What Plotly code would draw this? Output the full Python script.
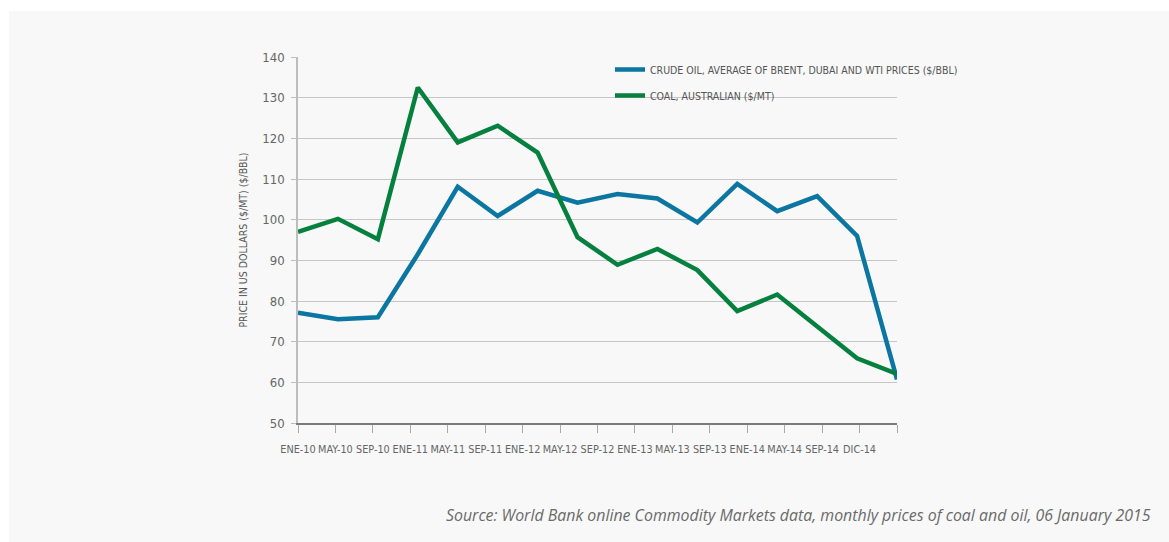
import plotly.graph_objects as go

# ---- data ----
periods = ["ENE-10", "MAY-10", "SEP-10", "ENE-11", "MAY-11", "SEP-11", "ENE-12", "MAY-12",
           "SEP-12", "ENE-13", "MAY-13", "SEP-13", "ENE-14", "MAY-14", "SEP-14", "DIC-14"]
oil = [77.1, 75.5, 76.0, 91.5, 108.1, 100.9, 107.1, 104.2,
       106.3, 105.2, 99.3, 108.8, 102.1, 105.8, 96.0, 60.7]
coal = [97.0, 100.2, 95.2, 132.5, 119.0, 123.1, 116.5, 95.7,
        88.9, 92.8, 87.6, 77.5, 81.6, 73.8, 65.9, 62.1]
tick_labels = periods + [""]
y_ticks = [50, 60, 70, 80, 90, 100, 110, 120, 130, 140]

oil_name = "CRUDE OIL, AVERAGE OF BRENT, DUBAI AND WTI PRICES ($/BBL)"
coal_name = "COAL, AUSTRALIAN ($/MT)"
source = "Source: World Bank online Commodity Markets data, monthly prices of coal and oil, 06 January 2015"

BLUE = "#0a76a1"
GREEN = "#06803f"
PANEL = "#f7f8f7"
NARROW = "Liberation Sans Narrow, DejaVu Sans Condensed, Arial Narrow, sans-serif"

fig = go.Figure()
# empty trace so that the labelled tick axis (x) is drawn
fig.add_trace(go.Scatter(x=[], y=[], xaxis="x", yaxis="y", showlegend=False, hoverinfo="skip"))
fig.add_trace(go.Scatter(x=periods, y=oil, mode="lines", name=oil_name, xaxis="x2",
                         line=dict(color=BLUE, width=4.5), legendgroup="a"))
fig.add_trace(go.Scatter(x=periods, y=coal, mode="lines", name=coal_name, xaxis="x2",
                         line=dict(color=GREEN, width=4.5), legendgroup="b"))

W, H = 1169, 542
L, R, T, B = 298, 272, 57, 119
pw, ph = W - L - R, H - T - B

def px(x):
    return (x - L) / pw

def py(y):
    return (H - B - y) / ph

fig.update_layout(
    width=W, height=H,
    margin=dict(l=L, r=R, t=T, b=B),
    paper_bgcolor="white",
    plot_bgcolor=PANEL,
    showlegend=True,
    legend=dict(x=px(610), y=py(55), xanchor="left", yanchor="top",
                bgcolor="rgba(0,0,0,0)", font=dict(family=NARROW, size=10.5, color="#555"),
                tracegroupgap=7, traceorder="grouped"),
    xaxis=dict(range=[0, 16], tickmode="array", tickvals=list(range(17)), ticktext=tick_labels,
               showgrid=False, zeroline=False, showline=True, linecolor="#7a7a7a", linewidth=1.5,
               ticks="outside", ticklen=8, tickcolor="#aaaaaa", tickwidth=1, ticklabelstandoff=7,
               tickfont=dict(family=NARROW, size=10.8, color="#666")),
    xaxis2=dict(overlaying="x", type="category", categoryorder="array", categoryarray=periods,
                range=[0, 15], visible=False),
    yaxis=dict(range=[50, 140], tickvals=y_ticks, showgrid=True, gridcolor="#c6c6c6", gridwidth=1.3,
               zeroline=False, showline=True, linecolor="#bdbdbd", linewidth=1.5,
               ticks="outside", ticklen=5, tickcolor="#bdbdbd", ticklabelstandoff=4,
               tickfont=dict(family=NARROW, size=13, color="#666"),
               title=dict(text="PRICE IN US DOLLARS ($/MT) ($/BBL)", standoff=13,
                          font=dict(family=NARROW, size=10.5, color="#555"))),
    shapes=[
        dict(type="rect", xref="paper", yref="paper", x0=px(9), x1=px(W + 5), y0=py(H + 5), y1=py(11),
             fillcolor=PANEL, line=dict(width=0), layer="below"),
        dict(type="rect", xref="paper", yref="paper", x0=px(587), x1=px(899), y0=py(112), y1=py(50),
             fillcolor=PANEL, line=dict(width=0), layer="between"),
    ],
    annotations=[
        dict(text=source, xref="paper", yref="paper", x=px(1153), y=py(515), xanchor="right",
             yanchor="middle", showarrow=False,
             font=dict(family="Open Sans, sans-serif", size=15.9, color="#6a6a6a", style="italic")),
    ],
)

fig.write_html("out.html")
